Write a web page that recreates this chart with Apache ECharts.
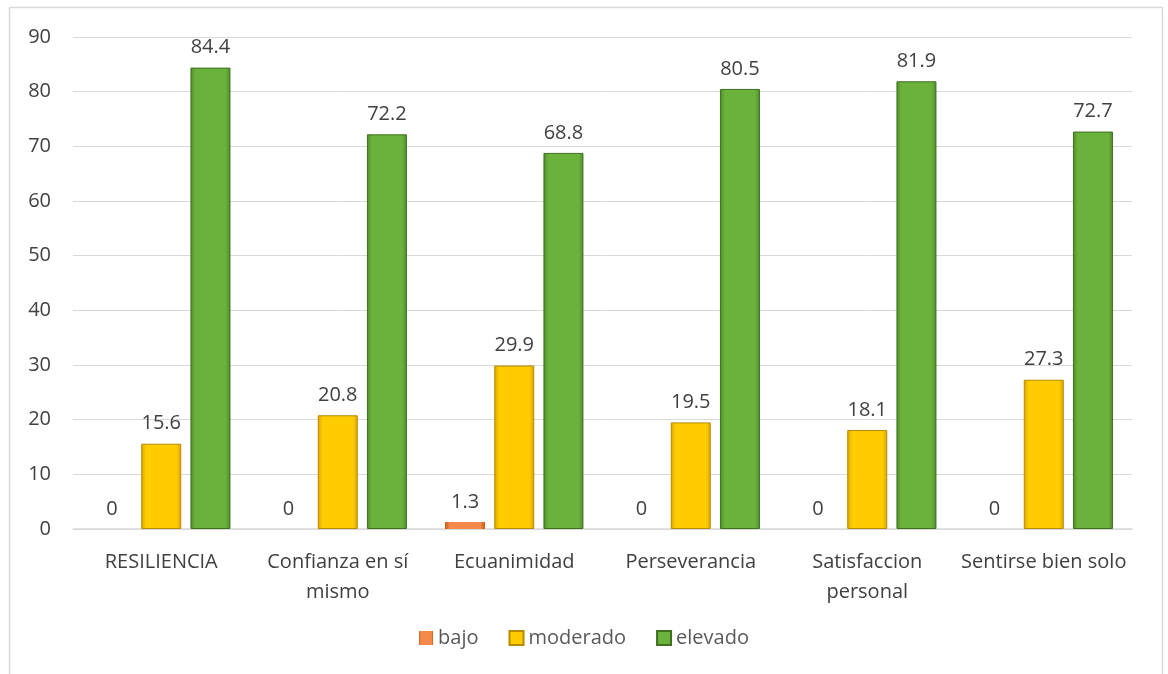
<!DOCTYPE html>
<html>
<head>
<meta charset="utf-8">
<script src="https://cdn.jsdelivr.net/npm/echarts@6/dist/echarts.min.js"></script>
<style>
  html, body { margin: 0; padding: 0; background: #fff; }
  #main { width: 1168px; height: 674px; }
</style>
</head>
<body>
<div id="main"></div>
<script>
var myChart = echarts.init(document.getElementById('main'));

var categories = ['RESILIENCIA', 'Confianza en sí\nmismo', 'Ecuanimidad', 'Perseverancia', 'Satisfaccion\npersonal', 'Sentirse bien solo'];
var bajo = [0, 0, 1.3, 0, 0, 0];
var moderado = [15.6, 20.8, 29.9, 19.5, 18.1, 27.3];
var elevado = [84.4, 72.2, 68.8, 80.5, 81.9, 72.7];

// bevel look: darker edges, lighter middle
function bevel(edge, mid, border, bw) {
  return {
    color: new echarts.graphic.LinearGradient(0, 0, 1, 0, [
      { offset: 0, color: edge },
      { offset: 0.12, color: mid },
      { offset: 0.88, color: mid },
      { offset: 1, color: edge }
    ]),
    borderColor: border,
    borderWidth: bw
  };
}

var labelStyle = {
  show: true,
  position: 'top',
  distance: 10,
  color: '#404040',
  fontSize: 20,
  fontFamily: 'Open Sans'
};

var option = {
  animation: false,
  textStyle: { fontFamily: 'Open Sans' },
  graphic: [{
    type: 'rect',
    shape: { x: 9.5, y: 7.5, width: 1153, height: 700 },
    style: { fill: 'none', stroke: '#d9d9d9', lineWidth: 1.5 },
    silent: true
  }],
  grid: {
    left: 73,
    right: 36,
    top: 37,
    bottom: 145
  },
  legend: {
    bottom: 21,
    left: 'center',
    itemWidth: 14,
    itemHeight: 14,
    itemGap: 30,
    icon: 'rect',
    textStyle: { color: '#595959', fontSize: 20 },
    data: ['bajo', 'moderado', 'elevado']
  },
  xAxis: {
    type: 'category',
    data: categories,
    axisLine: { lineStyle: { color: '#d9d9d9', width: 1.5 } },
    axisTick: { show: false },
    axisLabel: {
      color: '#404040',
      fontSize: 20,
      margin: 18,
      lineHeight: 30,
      interval: 0
    }
  },
  yAxis: {
    type: 'value',
    min: 0,
    max: 90,
    interval: 10,
    axisLine: { show: false },
    axisTick: { show: false },
    axisLabel: { color: '#404040', fontSize: 20, margin: 22 },
    splitLine: { lineStyle: { color: '#d9d9d9', width: 1 } }
  },
  series: [
    {
      name: 'bajo',
      type: 'bar',
      data: bajo,
      barWidth: 40,
      barGap: '23%',
      itemStyle: bevel('#c55a11', '#f4894b', '#b04f0f', 0),
      label: labelStyle
    },
    {
      name: 'moderado',
      type: 'bar',
      data: moderado,
      barWidth: 40,
      barGap: '23%',
      itemStyle: bevel('#d9a300', '#ffcc00', '#b88a00', 1),
      label: labelStyle
    },
    {
      name: 'elevado',
      type: 'bar',
      data: elevado,
      barWidth: 40,
      barGap: '23%',
      itemStyle: bevel('#4f8a2a', '#6bb23c', '#3f7020', 1),
      label: labelStyle
    }
  ]
};

option && myChart.setOption(option);
</script>
</body>
</html>
